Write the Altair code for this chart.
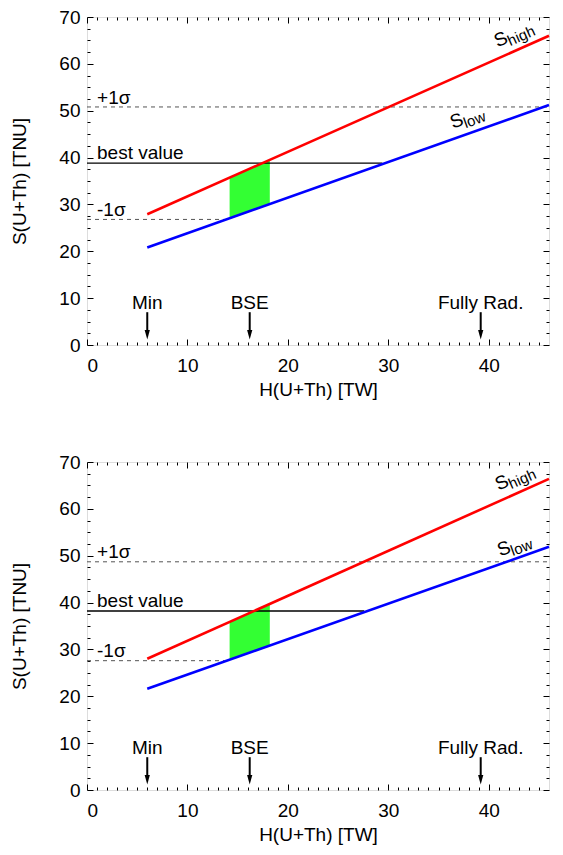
import altair as alt
import pandas as pd

FONT = "Liberation Sans"
FS = 19

# ---------------- values ----------------
line_x = [6.0, 46.0]
s_high_top = [27.9, 66.0]
s_low_top = [20.8, 51.2]
s_high_bottom = [28.0, 66.4]
s_low_bottom = [21.6, 51.9]

sigma_plus = [50.8, 48.7]        # top panel, bottom panel
best_value = [38.8, 38.2]
sigma_minus = [26.8, 27.6]
best_end_x = [29.4, 27.6]
sigma_minus_end_x = [13.7, 13.7]

green_x = [14.2, 18.2]
green_top_upper = [35.7, 39.4]
green_top_lower = [26.9, 30.0]
green_bottom_upper = [35.8, 39.6]
green_bottom_lower = [27.7, 30.7]

arrow_names = ["Min", "BSE", "Fully Rad."]
arrow_x = [6.0, 16.2, 39.2]
arrow_shaft = [7.0, 2.6]
arrow_head_y = 2.2
arrow_label_y = 8.9

sigma_labels = ["+1\u03c3", "best value", "-1\u03c3"]
sigma_label_dy = [2.0, 2.1, 2.0]   # label height above each line (data units)

s_names = ["S", "S"]
s_subs = ["high", "low"]
s_pos_top = [(41.2, 65.2), (36.8, 47.8)]
s_pos_bottom = [(41.3, 65.6), (41.5, 51.5)]
s_angles = [336, 340]

x_label_values = [0, 10, 20, 30, 40]
y_label_values = [0, 10, 20, 30, 40, 50, 60, 70]
x_minor = [v for v in range(1, 46) if v % 10 != 0]
y_minor = [v * 2.5 for v in range(1, 28) if (v * 2.5) % 10 != 0]

W, H = 462, 328
XS = alt.Scale(domain=[0, 46], nice=False, zero=False)
YS = alt.Scale(domain=[0, 70], nice=False, zero=False)


def tick_axis(orient, values, size):
    return alt.Axis(orient=orient, values=values, tickSize=size, offset=-size,
                    labels=False, domain=False, grid=False, ticks=True,
                    tickColor="black", tickWidth=1)


def enc(xaxis=None, yaxis=None, xf="x", yf="y"):
    if xaxis is None:
        x = alt.X(f"{xf}:Q", scale=XS, axis=None)
    else:
        x = alt.X(f"{xf}:Q", scale=XS, axis=xaxis, title=xaxis.to_dict().get("title", None))
    if yaxis is None:
        y = alt.Y(f"{yf}:Q", scale=YS, axis=None)
    else:
        y = alt.Y(f"{yf}:Q", scale=YS, axis=yaxis, title=yaxis.to_dict().get("title", None))
    return x, y


def panel(i, hi, lo, g_up, g_lo, s_pos):
    x_lab = alt.Axis(orient="bottom", values=x_label_values, ticks=False, tickSize=0,
                     domain=False, grid=False, labelFontSize=FS, labelFont=FONT,
                     labelColor="black", labelPadding=11, title="H(U+Th) [TW]",
                     titleFontSize=FS, titleFont=FONT, titleFontWeight="normal",
                     titleColor="black", titlePadding=5)
    y_lab = alt.Axis(orient="left", values=y_label_values, ticks=False, tickSize=0,
                     domain=False, grid=False, labelFontSize=FS, labelFont=FONT,
                     labelColor="black", labelPadding=7, title="S(U+Th) [TNU]",
                     titleFontSize=FS, titleFont=FONT, titleFontWeight="normal",
                     titleColor="black", titlePadding=29)

    green = pd.DataFrame({"x": green_x, "y": g_lo, "y2": g_up})
    x, y = enc(x_lab, y_lab)
    l_green = alt.Chart(green).mark_area(color="#33ff33", opacity=1).encode(
        x=x, y=y, y2="y2:Q")

    plus = pd.DataFrame({"x": [0.0, 46.0], "y": [sigma_plus[i]] * 2})
    x, y = enc(tick_axis("bottom", x_label_values, 6), tick_axis("left", y_label_values, 6))
    l_plus = alt.Chart(plus).mark_line(color="#555555", strokeWidth=1, strokeDash=[4, 4]).encode(x=x, y=y)

    minus = pd.DataFrame({"x": [0.0, sigma_minus_end_x[i]], "y": [sigma_minus[i]] * 2})
    x, y = enc(tick_axis("bottom", x_minor, 3), tick_axis("left", y_minor, 3))
    l_minus = alt.Chart(minus).mark_line(color="#555555", strokeWidth=1, strokeDash=[4, 4]).encode(x=x, y=y)

    best = pd.DataFrame({"x": [0.0, best_end_x[i]], "y": [best_value[i]] * 2})
    x, y = enc(tick_axis("top", x_label_values, 6), tick_axis("right", y_label_values, 6))
    l_best = alt.Chart(best).mark_line(color="black", strokeWidth=1.3).encode(x=x, y=y)

    red = pd.DataFrame({"x": line_x, "y": hi})
    x, y = enc(tick_axis("top", x_minor, 3), tick_axis("right", y_minor, 3))
    l_red = alt.Chart(red).mark_line(color="#ff0000", strokeWidth=2.6).encode(x=x, y=y)

    blue = pd.DataFrame({"x": line_x, "y": lo})
    x, y = enc()
    l_blue = alt.Chart(blue).mark_line(color="#0000ff", strokeWidth=2.6).encode(x=x, y=y)

    arr = pd.DataFrame({"x": arrow_x, "y": [arrow_shaft[0]] * 3, "y2": [arrow_shaft[1]] * 3,
                        "yh": [arrow_head_y] * 3, "yl": [arrow_label_y] * 3, "name": arrow_names})
    x, y = enc()
    l_shaft = alt.Chart(arr).mark_rule(color="black", strokeWidth=2).encode(x=x, y=y, y2="y2:Q")
    x, y = enc(yf="yh")
    l_head = alt.Chart(arr).mark_point(shape="M -0.55 -1 L 0.55 -1 L 0 1 Z", filled=True,
                                       color="black", opacity=1, size=90, strokeWidth=0).encode(x=x, y=y)
    x, y = enc(yf="yl")
    l_alab = alt.Chart(arr).mark_text(font=FONT, fontSize=FS, color="black", align="center",
                                      baseline="middle").encode(x=x, y=y, text="name:N")

    sig = pd.DataFrame({"x": [1.0] * 3,
                        "y": [sigma_plus[i] + sigma_label_dy[0], best_value[i] + sigma_label_dy[1],
                              sigma_minus[i] + sigma_label_dy[2]],
                        "t": sigma_labels})
    x, y = enc()
    l_sig = alt.Chart(sig).mark_text(font=FONT, fontSize=FS, color="black", align="left",
                                     baseline="middle").encode(x=x, y=y, text="t:N")

    layers = [l_green, l_plus, l_minus, l_best, l_red, l_blue, l_shaft, l_head, l_alab, l_sig]
    for k in range(2):
        sdf = pd.DataFrame({"x": [s_pos[k][0]], "y": [s_pos[k][1]], "s": [s_names[k]], "sub": [s_subs[k]]})
        x, y = enc()
        layers.append(alt.Chart(sdf).mark_text(font=FONT, fontSize=FS, color="black", align="center",
                                               baseline="middle", angle=s_angles[k]).encode(x=x, y=y, text="s:N"))
        layers.append(alt.Chart(sdf).mark_text(font=FONT, fontSize=15, color="black", align="left",
                                               baseline="middle", angle=s_angles[k], dx=6, dy=5).encode(
            x=x, y=y, text="sub:N"))

    return alt.layer(*layers).resolve_axis(x="independent", y="independent").properties(width=W, height=H)


top = panel(0, s_high_top, s_low_top, green_top_upper, green_top_lower, s_pos_top)
bottom = panel(1, s_high_bottom, s_low_bottom, green_bottom_upper, green_bottom_lower, s_pos_bottom)

chart = alt.vconcat(top, bottom, spacing=52).properties(
    padding={"left": 2, "top": -1, "right": 0, "bottom": 0}
).configure_view(stroke="black", strokeWidth=1.2).configure(font=FONT)

chart.save("out.html", embed_options={"renderer": "svg", "actions": False})
